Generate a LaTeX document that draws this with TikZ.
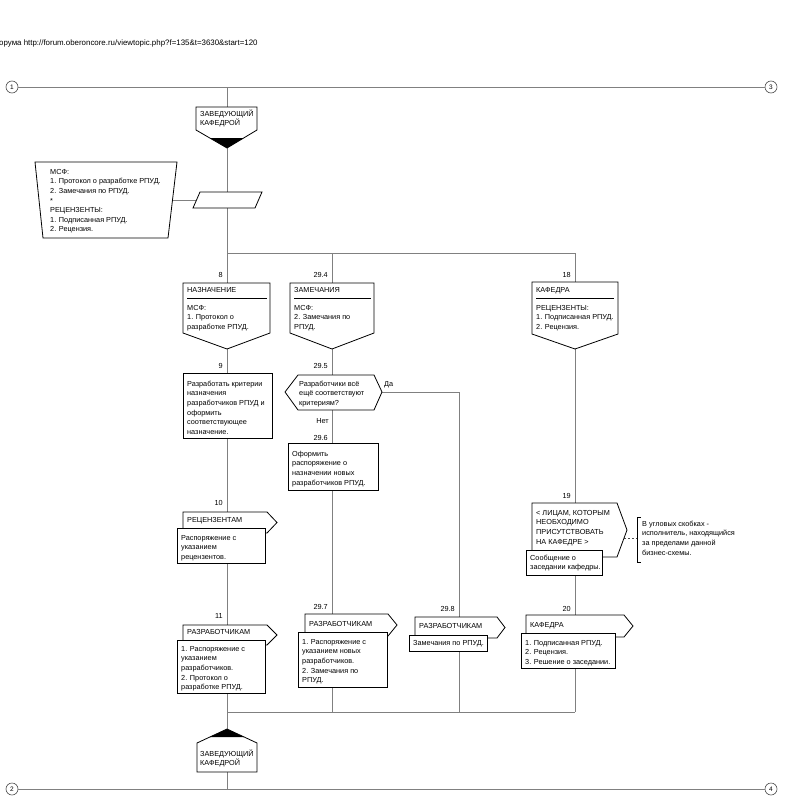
\documentclass[tikz,border=0pt]{standalone}
\usepackage{fontspec}
\setmainfont{Liberation Sans}
\newcommand\fl{\rule{0pt}{7pt}}
\newcommand\fs{\fontsize{7.3}{9.6}\selectfont}
\begin{document}
\begin{tikzpicture}[x=1pt,y=-1pt,
  shp/.style={draw=black,line width=0.8pt,fill=white,line join=miter},
  sep/.style={draw=black,line width=0.6pt},
  conn/.style={draw=black!50,line width=0.8pt},
  txt/.style={anchor=north west,inner sep=0pt,align=left,font=\fs},
  lbl/.style={anchor=base east,inner sep=0pt,font=\fs},
  circ/.style={circle,draw=black!70,line width=0.6pt,fill=white,minimum size=12pt,inner sep=0pt,font=\fontsize{6.5}{7}\selectfont},
  ]
\useasboundingbox (0,0) rectangle (784,800);

% header
\node[anchor=base west,inner sep=0pt,font=\fontsize{7.9}{9.6}\selectfont] (hdr) at (-1,46)
  {орума http://forum.oberoncore.ru/viewtopic.php?f=135\&t=3630\&start=120};

% swim lines
\node[circ] (c1) at (12,87) {1};
\node[circ] (c3) at (771,87) {3};
\node[circ] (c2) at (12,789) {2};
\node[circ] (c4) at (771,789) {4};
\draw[conn] (c1) -- (c3);
\draw[conn] (c2) -- (c4);

% coordinates
\coordinate (j0) at (227,87);
\coordinate (zkT) at (227,107); \coordinate (zkB) at (227,148);
\coordinate (j1) at (227,253); \coordinate (j2) at (332,253); \coordinate (j3) at (575,253);
\coordinate (n8T) at (227,283); \coordinate (n8B) at (227,349);
\coordinate (n294T) at (332,283); \coordinate (n294B) at (332,349);
\coordinate (n18T) at (575,282); \coordinate (n18B) at (575,349);
\coordinate (n9T) at (227,373); \coordinate (n9B) at (227,438);
\coordinate (n295T) at (332,375); \coordinate (n295B) at (332,410); \coordinate (n295R) at (382,392);
\coordinate (k1) at (459,392);
\coordinate (n296T) at (332,443); \coordinate (n296B) at (332,490);
\coordinate (n10T) at (227,512); \coordinate (n10B) at (227,563);
\coordinate (n11T) at (227,625); \coordinate (n11B) at (227,693);
\coordinate (n297T) at (332,614); \coordinate (n297B) at (332,687);
\coordinate (n298T) at (459,617); \coordinate (n298B) at (459,651);
\coordinate (n19T) at (575,503); \coordinate (n19B) at (575,575);
\coordinate (n20T) at (575,615); \coordinate (n20B) at (575,668);
\coordinate (m1) at (227,712); \coordinate (m2) at (332,712); \coordinate (m3) at (459,712); \coordinate (m4) at (575,712);
\coordinate (zk2T) at (227,729); \coordinate (zk2B) at (227,772);
\coordinate (j9) at (227,789);
\coordinate (cmR) at (172.5,200); \coordinate (pgL) at (196.5,200);
\coordinate (n19R) at (624,538); \coordinate (brk) at (637,538);

% connectors
\draw[conn] (j0) -- (zkT);
\draw[conn] (zkB) -- (j1);
\draw[conn] (j1) -- (j3);
\draw[conn] (j1) -- (n8T);
\draw[conn] (n8B) -- (n9T);
\draw[conn] (n9B) -- (n10T);
\draw[conn] (n10B) -- (n11T);
\draw[conn] (n11B) -- (m1);
\draw[conn] (m1) -- (zk2T);
\draw[conn] (zk2B) -- (j9);
\draw[conn] (j2) -- (n294T);
\draw[conn] (n294B) -- (n295T);
\draw[conn] (n295B) -- (n296T);
\draw[conn] (n296B) -- (n297T);
\draw[conn] (n297B) -- (m2);
\draw[conn] (n295R) -- (k1) -- (n298T);
\draw[conn] (n298B) -- (m3);
\draw[conn] (j3) -- (n18T);
\draw[conn] (n18B) -- (n19T);
\draw[conn] (n19B) -- (n20T);
\draw[conn] (n20B) -- (m4);
\draw[conn] (m1) -- (m4);
\draw[conn] (cmR) -- (pgL);
\draw[black!70,line width=0.6pt,dash pattern=on 2pt off 2pt] (n19R) -- (brk);

% top ZK
\draw[shp] (196,107) -- (257,107) -- (257,130) -- (227,148) -- (196,130) -- cycle;
\fill[black] (209.8,138) -- (243.7,138) -- (227,148) -- cycle;
\node[txt] (tzk) at (200,109) {\fl ЗАВЕДУЮЩИЙ\\КАФЕДРОЙ};

% comment + parallelogram
\draw[shp] (35,162) -- (177,162) -- (168,238) -- (43,238) -- cycle;
\node[txt] (tcm) at (50,167) {\fl МСФ:\\1. Протокол о разработке РПУД.\\2. Замечания по РПУД.\\*\\РЕЦЕНЗЕНТЫ:\\1. Подписанная РПУД.\\2. Рецензия.};
\draw[shp] (200,192) -- (262,192) -- (255,208) -- (193,208) -- cycle;

% node 8
\node[lbl] (l8) at (223,277) {8};
\draw[shp] (183,283) -- (270,283) -- (270,333) -- (227,349) -- (183,333) -- cycle;
\draw[sep] (187,298) -- (267,298);
\node[txt] (t8a) at (187,285) {\fl НАЗНАЧЕНИЕ};
\node[txt] (t8b) at (187,303) {\fl МСФ:\\1. Протокол о\\разработке РПУД.};

% node 29.4
\node[lbl] (l294) at (328,277) {29.4};
\draw[shp] (290,283) -- (374,283) -- (374,333) -- (332,349) -- (290,333) -- cycle;
\draw[sep] (294,298) -- (371,298);
\node[txt] (t294a) at (294,285) {\fl ЗАМЕЧАНИЯ};
\node[txt] (t294b) at (294,303) {\fl МСФ:\\2. Замечания по\\РПУД.};

% node 18
\node[lbl] (l18) at (571,277) {18};
\draw[shp] (532,282) -- (618,282) -- (618,334) -- (575,349) -- (532,334) -- cycle;
\draw[sep] (536,298) -- (614,298);
\node[txt] (t18a) at (536,285) {\fl КАФЕДРА};
\node[txt] (t18b) at (536,303) {\fl РЕЦЕНЗЕНТЫ:\\1. Подписанная РПУД.\\2. Рецензия.};

% node 9
\node[lbl] (l9) at (223,368) {9};
\draw[shp] (183,373) rectangle (272,438);
\node[txt] (t9) at (187,379) {\fl Разработать критерии\\назначения\\разработчиков РПУД и\\оформить\\соответствующее\\назначение.};

% node 29.5
\node[lbl] (l295) at (328,368) {29.5};
\draw[shp] (298,375) -- (374,375) -- (382,392) -- (374,410) -- (298,410) -- (285,392) -- cycle;
\node[txt] (t295) at (299,379) {\fl Разработчики всё\\ещё соответствуют\\критериям?};
\node[anchor=base west,inner sep=0pt,font=\fs] (lda) at (384,386) {Да};
\node[lbl] (lnet) at (329,423) {Нет};

% node 29.6
\node[lbl] (l296) at (328,440) {29.6};
\draw[shp] (288,443) rectangle (378,490);
\node[txt] (t296) at (292,449) {\fl Оформить\\распоряжение о\\назначении новых\\разработчиков РПУД.};

% node 10
\node[lbl] (l10) at (223,505) {10};
\draw[shp] (183,512) -- (267,512) -- (277,522.5) -- (267,533) -- (183,533) -- cycle;
\node[txt] (t10a) at (187,515) {\fl РЕЦЕНЗЕНТАМ};
\draw[shp] (177,528) rectangle (265,563);
\node[txt] (t10b) at (181,533) {\fl Распоряжение с\\указанием\\рецензентов.};

% node 11
\node[lbl] (l11) at (223,618) {11};
\draw[shp] (183,625) -- (267,625) -- (277,635) -- (267,645) -- (183,645) -- cycle;
\node[txt] (t11a) at (187,627) {\fl РАЗРАБОТЧИКАМ};
\draw[shp] (177,640) rectangle (265,693);
\node[txt] (t11b) at (181,644) {\fl 1. Распоряжение с\\указанием\\разработчиков.\\2. Протокол о\\разработке РПУД.};

% node 29.7
\node[lbl] (l297) at (328,609) {29.7};
\draw[shp] (305,614) -- (388,614) -- (397,625) -- (388,636) -- (305,636) -- cycle;
\node[txt] (t297a) at (309,619) {\fl РАЗРАБОТЧИКАМ};
\draw[shp] (298,632) rectangle (387,687);
\node[txt] (t297b) at (302,637) {\fl 1. Распоряжение с\\указанием новых\\разработчиков.\\2. Замечания по\\РПУД.};

% node 29.8
\node[lbl] (l298) at (455,611) {29.8};
\draw[shp] (415,617) -- (497,617) -- (505,627.5) -- (497,638) -- (415,638) -- cycle;
\node[txt] (t298a) at (419,621) {\fl РАЗРАБОТЧИКАМ};
\draw[shp] (409,635) rectangle (487,651);
\node[txt] (t298b) at (413,638) {\fl Замечания по РПУД.};

% node 19
\node[lbl] (l19) at (571,498) {19};
\draw[shp] (532,503) -- (617,503) -- (627,530) -- (617,557) -- (532,557) -- cycle;
\node[txt] (t19a) at (536,508) {\fl < ЛИЦАМ, КОТОРЫМ\\НЕОБХОДИМО\\ПРИСУТСТВОВАТЬ\\НА КАФЕДРЕ >};
\draw[shp] (526,550) rectangle (602,575);
\node[txt] (t19b) at (530,553) {\fl Сообщение о\\заседании кафедры.};

% annotation
\draw[black,line width=0.8pt] (641,517) -- (637,517) -- (637,562) -- (641,562);
\node[txt] (tann) at (642,519) {\fl В угловых скобках -\\исполнитель, находящийся\\за пределами данной\\бизнес-схемы.};

% node 20
\node[lbl] (l20) at (571,611) {20};
\draw[shp] (526,615) -- (624,615) -- (633,626) -- (624,637) -- (526,637) -- cycle;
\node[txt] (t20a) at (530,620) {\fl КАФЕДРА};
\draw[shp] (521,633) rectangle (615,668);
\node[txt] (t20b) at (525,638) {\fl 1. Подписанная РПУД.\\2. Рецензия.\\3. Решение о заседании.};

% bottom ZK
\draw[shp] (227,729) -- (257,743) -- (257,772) -- (197,772) -- (197,743) -- cycle;
\fill[black] (227,729) -- (244.1,737) -- (209.9,737) -- cycle;
\node[txt] (bzk) at (200,749) {\fl ЗАВЕДУЮЩИЙ\\КАФЕДРОЙ};
\end{tikzpicture}
\end{document}
